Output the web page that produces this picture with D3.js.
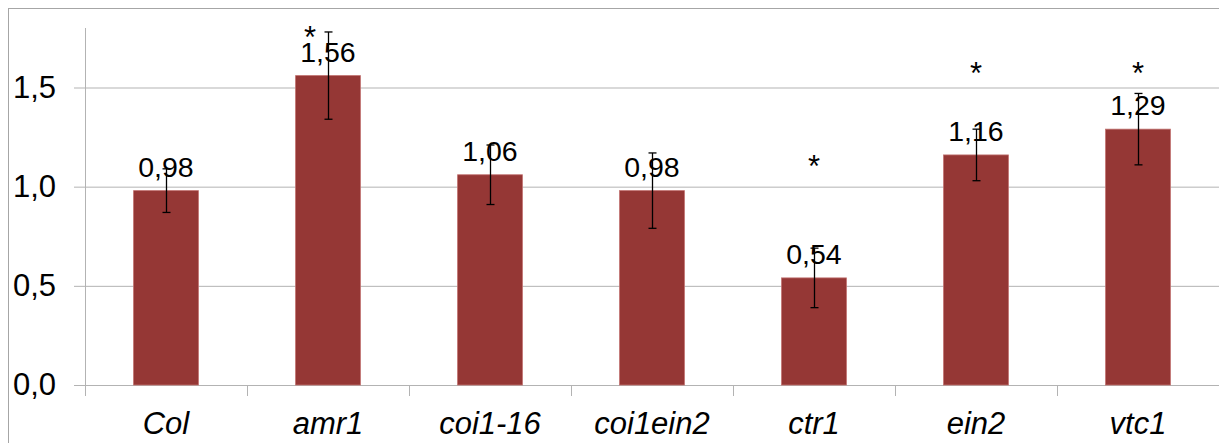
<!DOCTYPE html>
<html>
<head>
<meta charset="utf-8">
<script src="https://cdn.jsdelivr.net/npm/d3@7"></script>
<style>
  body { margin: 0; background: #fff; }
  svg { display: block; font-family: "Liberation Sans", Arial, sans-serif; }
</style>
</head>
<body>
<svg id="chart" width="1219" height="443"></svg>
<script>
// genotypes and relative values
const categories = ["Col", "amr1", "coi1-16", "coi1ein2", "ctr1", "ein2", "vtc1"];
const values = [0.98, 1.56, 1.06, 0.98, 0.54, 1.16, 1.29];
const errors = [0.11, 0.22, 0.15, 0.19, 0.15, 0.13, 0.18];
const labels = ["0,98", "1,56", "1,06", "0,98", "0,54", "1,16", "1,29"];
// significance marks (level in axis units, null = none)
const stars = [null, 1.70, null, null, 1.05, 1.52, 1.52];
const yTicks = [0, 0.5, 1.0, 1.5];
const yTickLabels = ["0,0", "0,5", "1,0", "1,5"];

const svg = d3.select("#chart");
const margin = { top: 28, right: 0, bottom: 58, left: 85 };
const W = 1219, H = 443;

// outer frame
svg.append("rect").attr("x", 8.5).attr("y", 8.5).attr("width", W).attr("height", H)
  .attr("fill", "none").attr("stroke", "#a6a6a6");

const x = d3.scaleBand().domain(categories)
  .range([margin.left, W - margin.right]).paddingInner(0.6).paddingOuter(0.3);
const y = d3.scaleLinear().domain([0, 1.8]).range([H - margin.bottom, margin.top]);

// gridlines + y axis
const yAxis = svg.append("g").attr("transform", "translate(" + margin.left + ",0)")
  .call(d3.axisLeft(y).tickValues(yTicks).tickSize(11).tickPadding(18)
    .tickFormat(function (d, i) { return yTickLabels[i]; }));
yAxis.select(".domain").attr("stroke", "#b3b3b3").attr("d", "M0.5," + margin.top + "V" + (H - margin.bottom));
yAxis.selectAll(".tick line").attr("stroke", "#b3b3b3").attr("x2", W).attr("x1", -11);
yAxis.selectAll(".tick text").attr("font-size", 31).attr("fill", "#000")
  .attr("font-family", "Liberation Sans, Arial, sans-serif");

// x axis with tick marks at category boundaries
const x0 = H - margin.bottom;
const xa = svg.append("g");
xa.selectAll("line.bound").data(d3.range(categories.length + 1)).enter().append("line")
  .attr("x1", function (i) { return margin.left + i * x.step() + 0.5; })
  .attr("x2", function (i) { return margin.left + i * x.step() + 0.5; })
  .attr("y1", x0).attr("y2", x0 + 11).attr("stroke", "#b3b3b3");
xa.selectAll("text").data(categories).enter().append("text")
  .attr("x", function (d) { return x(d) + x.bandwidth() / 2; })
  .attr("y", 434).attr("text-anchor", "middle")
  .attr("font-size", 31).attr("font-style", "italic").text(function (d) { return d; });

// bars
const data = categories.map(function (c, i) {
  return { c: c, v: values[i], e: errors[i], lab: labels[i], star: stars[i] };
});
svg.selectAll("rect.bar").data(data).enter().append("rect").attr("class", "bar")
  .attr("x", function (d) { return x(d.c); })
  .attr("width", x.bandwidth())
  .attr("y", function (d) { return y(d.v); })
  .attr("height", function (d) { return y(0) - y(d.v); })
  .attr("fill", "#953735").attr("stroke", "#c0706e").attr("stroke-width", 0.8);

// value labels
svg.selectAll("text.val").data(data).enter().append("text").attr("class", "val")
  .attr("x", function (d) { return x(d.c) + x.bandwidth() / 2; })
  .attr("y", function (d) { return y(d.v) - 14; })
  .attr("text-anchor", "middle").attr("font-size", 28.5).text(function (d) { return d.lab; });

// error bars
const eb = svg.selectAll("g.err").data(data).enter().append("g").attr("class", "err")
  .attr("transform", function (d) { return "translate(" + (Math.round(x(d.c) + x.bandwidth() / 2) + 0.5) + ",0)"; });
eb.append("line").attr("y1", function (d) { return y(d.v + d.e); })
  .attr("y2", function (d) { return y(d.v - d.e); }).attr("stroke", "#000").attr("stroke-width", 1.3);
eb.append("line").attr("x1", -4).attr("x2", 4)
  .attr("y1", function (d) { return y(d.v + d.e); }).attr("y2", function (d) { return y(d.v + d.e); })
  .attr("stroke", "#000").attr("stroke-width", 1.3);
eb.append("line").attr("x1", -4).attr("x2", 4)
  .attr("y1", function (d) { return y(d.v - d.e); }).attr("y2", function (d) { return y(d.v - d.e); })
  .attr("stroke", "#000").attr("stroke-width", 1.3);

// significance stars
svg.selectAll("text.star").data(data.filter(function (d) { return d.star !== null; }))
  .enter().append("text").attr("class", "star")
  .attr("x", function (d, i) { return x(d.c) + x.bandwidth() / 2 + (d.c === "amr1" ? -18 : 0); })
  .attr("y", function (d) { return y(d.star); })
  .attr("text-anchor", "middle").attr("font-size", 31)
  .text("*");
</script>
</body>
</html>
